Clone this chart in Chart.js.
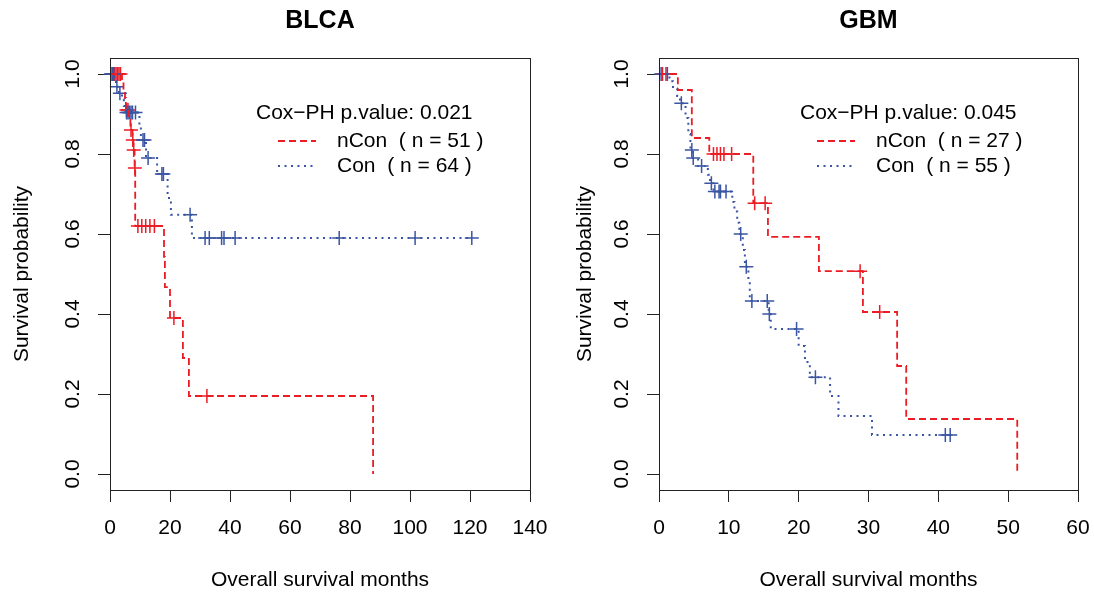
<!DOCTYPE html>
<html lang="en">
<head>
<meta charset="UTF-8" />
<title>Survival curves BLCA / GBM</title>
<script src="https://cdn.jsdelivr.net/npm/chart.js"></script>
<style>
  body { margin: 0; background: #fff; }
  #wrap { position: relative; width: 1094px; height: 592px; }
  canvas { position: absolute; top: 0; }
</style>
</head>
<body>
<div id="wrap">
  <canvas id="blca" width="547" height="592" style="left:0"></canvas>
  <canvas id="gbm" width="547" height="592" style="left:547px"></canvas>
</div>

<script>
// values (months, survival probability)
const blcaNconTimes  = [0, 4.0, 4.5, 5.0, 5.3, 6.3, 6.8, 7.5, 7.8, 8.2, 8.4, 18.0, 18.3, 20.0, 24.3, 26.3, 87.7];
const blcaNconSurv   = [1, 0.98, 0.96, 0.94, 0.91, 0.885, 0.86, 0.835, 0.81, 0.765, 0.62, 0.543, 0.467, 0.39, 0.29, 0.195, 0];
const blcaNconCensor = [0.8, 1.5, 2.0, 2.5, 3.0, 3.5, 5.5, 6.0, 7.0, 7.6, 7.9, 8.3, 9.3, 10.6, 11.9, 13.3, 14.8, 21.3, 32.3];

const blcaConTimes  = [0, 1.5, 2.0, 3.0, 4.0, 4.6, 5.2, 9.8, 10.3, 12.0, 15.7, 19.2, 20.3, 27.3, 120.6];
const blcaConSurv   = [1, 0.984, 0.968, 0.952, 0.936, 0.92, 0.904, 0.87, 0.835, 0.79, 0.75, 0.69, 0.648, 0.59, 0.59];
const blcaConCensor = [0.3, 0.8, 1.2, 2.3, 3.3, 5.5, 6.0, 6.5, 7.0, 7.5, 8.5, 11.0, 11.5, 12.7, 17.3, 17.8, 26.7, 31.7, 33.1, 37.2, 38.0, 41.7, 76.4, 101.7, 120.6];

const gbmNconTimes  = [0, 2.7, 4.7, 7.2, 13.5, 15.6, 22.9, 29.2, 34.1, 35.4, 51.3];
const gbmNconSurv   = [1, 0.96, 0.84, 0.80, 0.677, 0.593, 0.507, 0.405, 0.27, 0.1375, 0];
const gbmNconCensor = [0.5, 1.0, 7.8, 8.3, 8.8, 9.3, 10.4, 13.7, 15.2, 28.8, 31.6];

const gbmConTimes  = [0, 1.5, 2.0, 2.6, 3.0, 3.8, 4.2, 4.5, 4.8, 5.6, 7.0, 7.3, 7.8, 10.5, 10.8, 11.2, 11.5, 12.0, 12.3, 12.8, 13.0, 15.7, 16.0, 20.0, 20.9, 21.6, 24.5, 25.7, 30.5, 41.7];
const gbmConSurv   = [1, 0.982, 0.964, 0.945, 0.927, 0.89, 0.85, 0.81, 0.79, 0.77, 0.748, 0.727, 0.706, 0.68, 0.656, 0.628, 0.60, 0.56, 0.518, 0.477, 0.4325, 0.40, 0.3625, 0.32, 0.28, 0.242, 0.195, 0.145, 0.0975, 0.0975];
const gbmConCensor = [0.3, 1.2, 3.2, 4.7, 4.9, 6.1, 7.5, 8.0, 8.6, 8.8, 9.6, 11.7, 12.5, 13.3, 15.5, 15.8, 19.7, 22.4, 41.0, 41.7];

const yTicks = [0, 0.2, 0.4, 0.6, 0.8, 1.0];
const blcaXTicks = [0, 20, 40, 60, 80, 100, 120, 140];
const gbmXTicks = [0, 10, 20, 30, 40, 50, 60];

const RED = 'rgb(236, 28, 36)';
const BLUE = 'rgb(58, 85, 164)';
const FONT = '"Liberation Sans", Arial, Helvetica, sans-serif';

// survival value of the step curve at time t
function survAt(times, surv, t) {
  let s = surv[0];
  for (let i = 0; i < times.length; i++) {
    if (times[i] <= t) s = surv[i];
  }
  return s;
}

function curve(times, surv, color, dash, width) {
  return {
    type: 'line',
    data: times.map((t, i) => ({ x: t, y: surv[i] })),
    borderColor: color,
    borderWidth: width,
    borderDash: dash,
    stepped: true,
    pointRadius: 0,
    fill: false,
    clip: false
  };
}

function censors(times, surv, cens, color) {
  return {
    type: 'scatter',
    data: cens.map(t => ({ x: t, y: survAt(times, surv, t) })),
    pointStyle: 'cross',
    pointRadius: 7,
    borderColor: color,
    borderWidth: 1.5,
    clip: false
  };
}

const decor = {
  id: 'decor',
  afterDraw(chart, args, o) {
    const ctx = chart.ctx;
    const a = chart.chartArea;
    const ys = chart.scales.y;
    ctx.save();
    ctx.strokeStyle = '#222';
    ctx.lineWidth = 1;
    ctx.setLineDash([]);
    ctx.strokeRect(Math.round(a.left) + 0.5, Math.round(a.top) + 0.5,
                   Math.round(a.right - a.left), Math.round(a.bottom - a.top));

    ctx.fillStyle = '#000';
    ctx.font = '21px ' + FONT;
    ctx.textAlign = 'center';
    ctx.textBaseline = 'middle';
    yTicks.forEach(v => {
      ctx.save();
      ctx.translate(a.left - 37, ys.getPixelForValue(v));
      ctx.rotate(-Math.PI / 2);
      ctx.fillText(v.toFixed(1), 0, 0);
      ctx.restore();
    });

    ctx.fillText('Overall survival months', (a.left + a.right) / 2, 580);
    ctx.save();
    ctx.translate(o.yTitleX, (a.top + a.bottom) / 2);
    ctx.rotate(-Math.PI / 2);
    ctx.fillText('Survival probability', 0, 0);
    ctx.restore();

    ctx.font = 'bold 25px ' + FONT;
    ctx.fillText(o.title, (a.left + a.right) / 2, 21);

    // legend
    const L = o.legend;
    ctx.font = '21px ' + FONT;
    ctx.textAlign = 'left';
    ctx.fillText(L.head, L.headX, L.y0);
    ctx.fillText(L.red, L.textX, L.y0 + 28);
    ctx.fillText(L.blue, L.textX, L.y0 + 53);
    ctx.lineWidth = 1.8;
    ctx.strokeStyle = RED;
    ctx.setLineDash([7, 4]);
    ctx.beginPath();
    ctx.moveTo(L.lineX, L.y0 + 28);
    ctx.lineTo(L.lineX + 38, L.y0 + 28);
    ctx.stroke();
    ctx.strokeStyle = BLUE;
    ctx.lineWidth = 2;
    ctx.setLineDash([2, 4.5]);
    ctx.beginPath();
    ctx.moveTo(L.lineX, L.y0 + 53);
    ctx.lineTo(L.lineX + 38, L.y0 + 53);
    ctx.stroke();
    ctx.restore();
  }
};

function makeChart(id, opts) {
  const axisGrid = { drawOnChartArea: false, drawTicks: true, tickLength: 12, color: '#222', lineWidth: 1 };
  return new Chart(document.getElementById(id), {
    data: { datasets: opts.datasets },
    options: {
      responsive: false,
      animation: false,
      layout: { padding: { top: 58, left: 0, right: 547 - opts.areaRight, bottom: 0 } },
      plugins: {
        legend: { display: false },
        tooltip: { enabled: false },
        decor: opts.decor
      },
      scales: {
        x: {
          type: 'linear',
          min: 0,
          max: opts.xMax,
          afterBuildTicks: s => { s.ticks = opts.xTicks.map(v => ({ value: v })); },
          afterFit: s => { s.height = 592 - 490; s.paddingLeft = 0; s.paddingRight = 0; },
          grid: axisGrid,
          border: { display: false },
          ticks: { color: '#000', font: { family: FONT, size: 21 }, padding: 14, maxRotation: 0 }
        },
        y: {
          type: 'linear',
          min: -0.04,
          max: 1.04,
          afterBuildTicks: s => { s.ticks = yTicks.map(v => ({ value: v })); },
          afterFit: s => { s.width = opts.areaLeft; s.paddingTop = 0; s.paddingBottom = 0; },
          grid: axisGrid,
          border: { display: false },
          ticks: { display: false }
        }
      }
    },
    plugins: [decor]
  });
}

makeChart('blca', {
  xMax: 140,
  xTicks: blcaXTicks,
  areaLeft: 110,
  areaRight: 530,
  datasets: [
    curve(blcaConTimes, blcaConSurv, BLUE, [2, 4.5], 2),
    curve(blcaNconTimes, blcaNconSurv, RED, [7, 4], 1.8),
    censors(blcaConTimes, blcaConSurv, blcaConCensor, BLUE),
    censors(blcaNconTimes, blcaNconSurv, blcaNconCensor, RED)
  ],
  decor: {
    title: 'BLCA',
    yTitleX: 22,
    legend: { head: 'Cox\u2212PH p.value: 0.021', red: 'nCon  ( n = 51 )', blue: 'Con  ( n = 64 )',
              headX: 256, textX: 337, lineX: 278, y0: 113 }
  }
});

makeChart('gbm', {
  xMax: 60,
  xTicks: gbmXTicks,
  areaLeft: 112,
  areaRight: 531,
  datasets: [
    curve(gbmConTimes, gbmConSurv, BLUE, [2, 4.5], 2),
    curve(gbmNconTimes, gbmNconSurv, RED, [7, 4], 1.8),
    censors(gbmConTimes, gbmConSurv, gbmConCensor, BLUE),
    censors(gbmNconTimes, gbmNconSurv, gbmNconCensor, RED)
  ],
  decor: {
    title: 'GBM',
    yTitleX: 38,
    legend: { head: 'Cox\u2212PH p.value: 0.045', red: 'nCon  ( n = 27 )', blue: 'Con  ( n = 55 )',
              headX: 253, textX: 329, lineX: 270, y0: 113 }
  }
});
</script>
</body>
</html>
